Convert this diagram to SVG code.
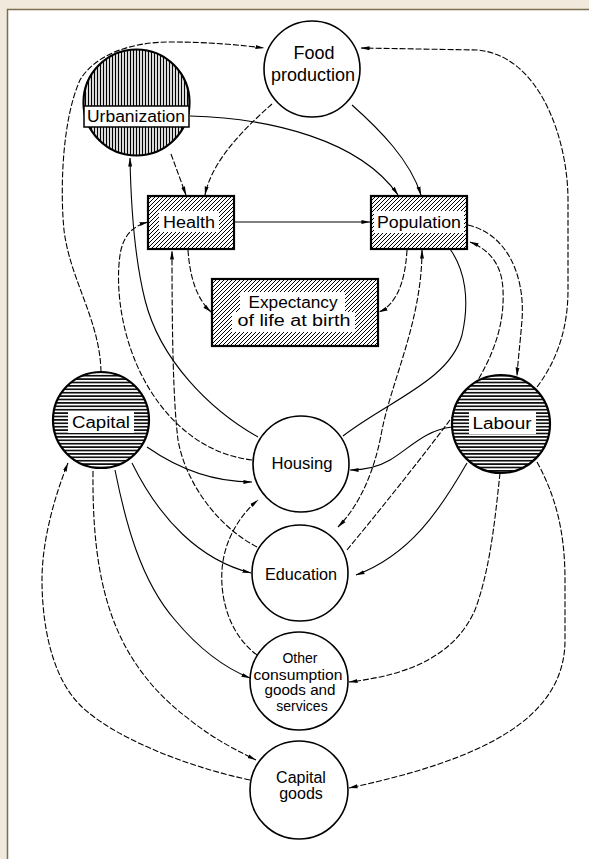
<svg xmlns="http://www.w3.org/2000/svg" width="589" height="859" viewBox="0 0 589 859">
<style>
.n{fill:#fff;stroke:#000;stroke-width:1.6}
.hb{stroke:#000;stroke-width:2.2}
.t{font-family:"Liberation Sans",Arial,sans-serif;font-size:16px;fill:#000;text-anchor:middle}
.s{font-size:14px}
.c{fill:none;stroke:#000;stroke-width:1.1}
.d{stroke-dasharray:6 2}
.tb{fill:#fff}
</style>
<defs>
<pattern id="vh" width="3" height="10" patternUnits="userSpaceOnUse"><rect width="3" height="10" fill="#fff"/><line x1="1.5" y1="0" x2="1.5" y2="10" stroke="#000" stroke-width="1.3"/></pattern>
<pattern id="hh" width="10" height="3.4" patternUnits="userSpaceOnUse"><rect width="10" height="3.4" fill="#fff"/><line x1="0" y1="1.7" x2="10" y2="1.7" stroke="#000" stroke-width="1.6"/></pattern>
<pattern id="dh" width="4" height="4" patternUnits="userSpaceOnUse"><rect width="4" height="4" fill="#fff"/><path d="M-1,1 L1,-1 M0,4 L4,0 M3,5 L5,3" stroke="#000" stroke-width="1"/></pattern>
<marker id="a" viewBox="0 0 10 6" refX="9.5" refY="3" markerWidth="9" markerHeight="5.4" markerUnits="userSpaceOnUse" orient="auto-start-reverse"><path d="M0,0.8 L10,3 L0,5.2 Z" fill="#000"/></marker>
</defs>
<rect x="0" y="0" width="589" height="859" fill="#f1e9dc"/>
<rect x="7.5" y="9.5" width="600" height="900" fill="#fff" stroke="#7d6e50" stroke-width="1.5"/>

<g id="connectors">
<path class="c d" d="M101,372 C100,320 70,280 64,230 C60,190 62,120 80,80 C95,55 130,42 170,42 C210,42 240,45 264,48" marker-end="url(#a)"/>
<path class="c d" d="M537,387 C556,362 568,330 568,290 L568,200 C568,140 540,55 477,50 L361,48" marker-end="url(#a)"/>
<path class="c d" d="M272,104 C245,128 212,160 205,195" marker-end="url(#a)"/>
<path class="c" d="M352,105 C380,130 410,160 421,195" marker-end="url(#a)"/>
<path class="c d" d="M171,154 L186,195" marker-end="url(#a)"/>
<path class="c" d="M190,116 C270,118 360,140 398,195" marker-end="url(#a)"/>
<path class="c" d="M234,222 L370,222" marker-end="url(#a)"/>
<path class="c d" d="M188,250 C190,280 198,300 211,312" marker-end="url(#a)"/>
<path class="c d" d="M407,250 C405,285 395,305 379,312" marker-end="url(#a)"/>
<path class="c d" d="M468,225 C510,235 525,280 522,320 C520,345 518,360 517,376" marker-end="url(#a)"/>
<path class="c d" d="M347,550 C380,510 420,460 450,420 C490,370 505,330 503,290 C502,265 490,250 470,242" marker-end="url(#a)"/>
<path class="c d" d="M422,250 C422,320 392,380 382,430 C375,470 360,505 338,527" marker-start="url(#a)" marker-end="url(#a)"/>
<path class="c" d="M450,249 C465,270 470,300 462,335 C450,380 390,400 343,436"/>
<path class="c" d="M452,427 C425,430 410,448 390,460 C378,467 365,470 350,470" marker-end="url(#a)"/>
<path class="c" d="M467,463 C440,510 410,555 356,575" marker-end="url(#a)"/>
<path class="c d" d="M500,473 C495,520 490,570 475,610 C455,655 410,675 349,682" marker-end="url(#a)"/>
<path class="c d" d="M537,462 C555,495 565,530 565,580 L565,640 C565,720 480,760 349,788" marker-end="url(#a)"/>
<path class="c" d="M147,447 C180,470 215,482 252,482" marker-end="url(#a)"/>
<path class="c" d="M132,463 C160,520 200,560 251,573" marker-end="url(#a)"/>
<path class="c" d="M115,470 C125,520 140,580 175,620 C200,650 225,668 250,678" marker-end="url(#a)"/>
<path class="c d" d="M93,471 C92,580 110,660 190,720 C215,740 240,752 256,760" marker-end="url(#a)"/>
<path class="c d" d="M250,780 C180,765 110,735 80,705 C50,675 42,620 42,580 C42,540 55,495 68,463" marker-end="url(#a)"/>
<path class="c d" d="M257,655 C230,635 220,600 222,570 C224,540 240,515 258,500" marker-end="url(#a)"/>
<path class="c" d="M258,437 C210,410 160,360 145,300 C135,260 131,210 130,158" marker-end="url(#a)"/>
<path class="c d" d="M252,460 C210,455 175,430 150,390 C122,345 115,290 120,255 C123,235 133,226 148,222" marker-end="url(#a)"/>
<path class="c d" d="M257,547 C215,525 185,480 178,440 C173,400 172,330 172,251" marker-end="url(#a)"/>
</g>

<g id="food">
<circle class="n" cx="312" cy="69" r="48"/>
<text class="t" x="314" y="59" style="font-size:18px">Food</text>
<text class="t" x="313" y="81" style="font-size:18px">production</text>
</g>
<g id="urbanization">
<circle class="hb" cx="136.5" cy="102.5" r="53" fill="url(#vh)"/>
<rect x="84" y="106" width="105" height="21" fill="#fff" stroke="#000" stroke-width="1.5"/>
<text class="t" x="136" y="122" textLength="98" lengthAdjust="spacingAndGlyphs">Urbanization</text>
</g>
<g id="health">
<rect class="hb" x="148" y="196" width="86" height="53" fill="url(#dh)"/>
<rect class="tb" x="159" y="211" width="60" height="21"/>
<text class="t" x="189" y="228" textLength="52" lengthAdjust="spacingAndGlyphs">Health</text>
</g>
<g id="population">
<rect class="hb" x="371" y="196" width="96" height="53" fill="url(#dh)"/>
<rect class="tb" x="374" y="211" width="90" height="22"/>
<text class="t" x="419" y="228" textLength="84" lengthAdjust="spacingAndGlyphs">Population</text>
</g>
<g id="expectancy">
<rect class="hb" x="212" y="279" width="166" height="67" fill="url(#dh)"/>
<rect class="tb" x="240" y="292" width="105" height="20"/>
<rect class="tb" x="232" y="312" width="123" height="20"/>
<text class="t" x="293" y="308" textLength="89" lengthAdjust="spacingAndGlyphs">Expectancy</text>
<text class="t" x="294" y="326" textLength="113" lengthAdjust="spacingAndGlyphs">of life at birth</text>
</g>
<g id="capital">
<circle class="hb" cx="101" cy="420" r="48" fill="url(#hh)"/>
<rect class="tb" x="68" y="411" width="66" height="22"/>
<text class="t" x="101" y="428" textLength="58" lengthAdjust="spacingAndGlyphs">Capital</text>
</g>
<g id="labour">
<circle class="hb" cx="501" cy="424" r="49" fill="url(#hh)"/>
<rect class="tb" x="469" y="412" width="67" height="22"/>
<text class="t" x="502" y="429" textLength="59" lengthAdjust="spacingAndGlyphs">Labour</text>
</g>
<g id="housing">
<circle class="n" cx="301" cy="464" r="48"/>
<text class="t" x="302" y="469" textLength="61" lengthAdjust="spacingAndGlyphs">Housing</text>
</g>
<g id="education">
<circle class="n" cx="300" cy="573" r="48"/>
<text class="t" x="301" y="580" textLength="72" lengthAdjust="spacingAndGlyphs">Education</text>
</g>
<g id="other">
<circle class="n" cx="299" cy="681" r="49"/>
<text class="t s" x="300" y="663">Other</text>
<text class="t s" x="298" y="680" textLength="89" lengthAdjust="spacingAndGlyphs">consumption</text>
<text class="t s" x="300" y="695" textLength="71" lengthAdjust="spacingAndGlyphs">goods and</text>
<text class="t s" x="302" y="711">services</text>
</g>
<g id="capitalgoods">
<circle class="n" cx="299" cy="790" r="49"/>
<text class="t" x="301" y="783">Capital</text>
<text class="t" x="301" y="799">goods</text>
</g>
</svg>
